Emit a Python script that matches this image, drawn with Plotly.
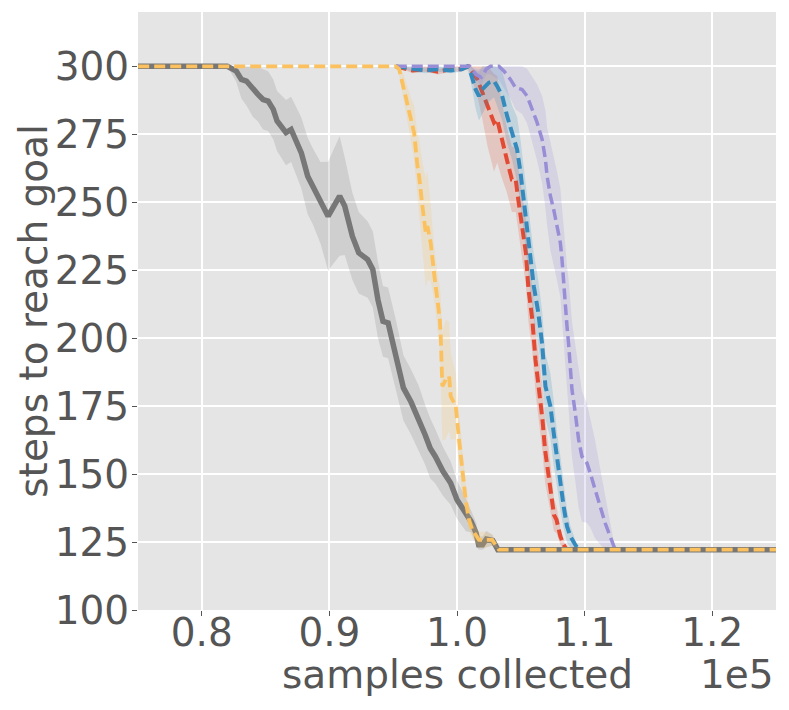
import numpy as np
import plotly.graph_objects as go

# x values in units of 1e5 samples collected
gray_x = [0.70, 0.820, 0.827, 0.831, 0.835, 0.840, 0.844, 0.848, 0.852, 0.856,
          0.859, 0.866, 0.870, 0.878, 0.883, 0.887, 0.893, 0.899, 0.908, 0.912,
          0.918, 0.923, 0.930, 0.934, 0.938, 0.942, 0.946, 0.952, 0.958, 0.964,
          0.970, 0.975, 0.979, 0.983, 0.989, 0.995, 1.000, 1.007, 1.011, 1.015,
          1.017, 1.020, 1.023, 1.028, 1.032, 1.30]
gray_y = [300, 300, 298.3, 295.2, 294.6, 291.5, 289.7, 287.8, 287.2, 284.2,
          279.9, 275.6, 276.8, 268.2, 259.6, 255.9, 249.8, 244.9, 252.3, 248.6,
          237.5, 231.4, 228.9, 225.3, 214.2, 206.2, 205.6, 194, 181.7, 176.5,
          170.5, 164.5, 159.5, 156.5, 151, 146.7, 140.6, 135, 132.6, 128.3,
          124, 124, 126.1, 125.6, 122.2, 122.2]
gray_s = [0, 0, 4, 7, 9, 10, 10, 11, 11, 11,
          11, 12, 12, 13, 14, 14, 15, 20, 22, 18,
          16, 15, 14, 14, 14, 13, 13, 13, 12, 12,
          12, 11, 11, 10, 9, 8, 7, 6, 4, 4,
          3, 3, 3, 2, 0, 0]

yel_x = [0.70, 0.952, 0.9547, 0.9586, 0.9638, 0.9664, 0.969, 0.9703, 0.9729, 0.9755,
         0.9768, 0.9794, 0.982, 0.9846, 0.9866, 0.9873, 0.9885, 0.9912, 0.9938, 0.9951,
         0.999, 1.0016, 1.0042, 1.0068, 1.0094, 1.012, 1.0172, 1.0224, 1.0276, 1.0328,
         1.30]
yel_y = [300, 300, 298.9, 291.5, 280.5, 275.6, 263.3, 259.6, 248.6, 238.8,
         241.2, 235.1, 224, 214.2, 206.8, 200, 182.3, 184.8, 186, 178.6,
         175, 162.7, 150.4, 140.6, 133.2, 129.5, 125.8, 125.8, 125.8, 122.2,
         122.2]
yel_s = [0, 0, 2, 5, 8, 10, 12, 14, 16, 20,
         20, 14, 10, 10, 12, 14, 20, 22, 20, 16,
         12, 10, 8, 6, 4, 3, 3, 3, 2, 0,
         0]

red_x = [0.952, 0.965, 0.975, 0.985, 0.995, 1.003, 1.009, 1.012, 1.016, 1.020,
         1.024, 1.029, 1.0315, 1.035, 1.039, 1.043, 1.046, 1.048, 1.051, 1.054,
         1.056, 1.059, 1.0615, 1.064, 1.067, 1.069, 1.072, 1.0745, 1.076, 1.078,
         1.081, 1.0836, 1.086, 1.30]
red_y = [300, 298.5, 299, 298, 299, 299, 300, 297.7, 295.2, 290.3,
         285.4, 279.3, 280.5, 273.1, 265.8, 258.4, 258.4, 251, 241.2, 231.4,
         218, 207, 192.1, 182.3, 170, 159, 149.2, 140.6, 135, 133.2,
         127.1, 124, 122.2, 122.2]
red_s = [0, 1, 1, 1, 1, 1, 1, 3, 6, 10,
         15, 18, 16, 14, 12, 12, 12, 12, 12, 12,
         12, 12, 12, 12, 12, 12, 10, 8, 6, 5,
         3, 2, 0, 0]

blue_x = [0.952, 0.965, 0.975, 0.985, 0.995, 1.004, 1.008, 1.0107, 1.0146, 1.0172,
          1.0198, 1.025, 1.029, 1.0315, 1.0354, 1.0393, 1.0432, 1.0471, 1.0498, 1.0523,
          1.0549, 1.0576, 1.0602, 1.0635, 1.0667, 1.0693, 1.0732, 1.0758, 1.0784, 1.081,
          1.0836, 1.0862, 1.0888, 1.0927, 1.0953, 1.30]
blue_y = [300, 299, 298.5, 299, 298.5, 299, 300, 297.7, 291.5, 289.1,
          291.5, 294, 294.6, 292.7, 289.1, 281.7, 275.6, 269.4, 260.9, 251,
          240, 228.9, 219.1, 210, 198, 182.3, 175, 165.1, 155.3, 146.7,
          138.1, 130.8, 127.1, 124, 122.2, 122.2]
blue_s = [0, 1, 1, 1, 1, 1, 1, 3, 7, 9,
          9, 7, 6, 7, 9, 10, 10, 12, 12, 12,
          12, 12, 12, 12, 12, 12, 12, 12, 10, 10,
          8, 6, 4, 2, 0, 0]

purp_x = [0.952, 0.975, 1.000, 1.010, 1.015, 1.019, 1.023, 1.0263, 1.0328, 1.0367,
          1.0419, 1.0458, 1.051, 1.0549, 1.0589, 1.0628, 1.0667, 1.0693, 1.0706, 1.0732,
          1.0758, 1.0784, 1.081, 1.0823, 1.0836, 1.0849, 1.0862, 1.0875, 1.0901, 1.0927,
          1.0953, 1.0979, 1.1018, 1.1044, 1.1083, 1.1122, 1.1161, 1.12, 1.1227, 1.124,
          1.30]
purp_y = [300, 300, 300, 300, 297, 296, 299, 300, 300, 298.3,
          295.2, 292.2, 291.5, 289.1, 284.2, 279.3, 273.1, 265.8, 259.6, 252.3,
          247.3, 241.2, 235.1, 228.9, 219.1, 212, 204.4, 197.6, 181.1, 172.5,
          162.7, 156.5, 154.1, 150.4, 144.3, 138.1, 132, 127.1, 123.4, 122.2,
          122.2]
purp_s = [0, 0, 0, 0, 2, 3, 2, 3, 5, 6,
          7, 8, 9, 10, 12, 14, 16, 18, 18, 20,
          20, 20, 20, 20, 22, 22, 22, 24, 25, 25,
          25, 24, 22, 20, 18, 14, 10, 6, 3, 0,
          0]

x_tick_vals = [0.8, 0.9, 1.0, 1.1, 1.2]
x_tick_text = ["0.8", "0.9", "1.0", "1.1", "1.2"]
y_tick_vals = [100, 125, 150, 175, 200, 225, 250, 275, 300]

series = [
    (red_x, red_y, red_s, "#E24A33", "rgba(226,74,51,0.2)", "dash", 4),
    (blue_x, blue_y, blue_s, "#348ABD", "rgba(52,138,189,0.2)", "dash", 4),
    (purp_x, purp_y, purp_s, "#988ED5", "rgba(152,142,213,0.2)", "dash", 3.5),
    (gray_x, gray_y, gray_s, "#777777", "rgba(119,119,119,0.2)", "solid", 5.5),
    (yel_x, yel_y, yel_s, "#FBC15E", "rgba(251,193,94,0.2)", "dash", 3.8),
]

fig = go.Figure()
for xs, ys, ss, col, fcol, dash, lw in series:
    xa = np.array(xs)
    ya = np.array(ys)
    sa = np.array(ss)
    hi = np.clip(ya + sa, 122.2, 300)
    lo = np.clip(ya - sa, 122.2, 300)
    fig.add_trace(go.Scatter(
        x=np.concatenate([xa, xa[::-1]]), y=np.concatenate([hi, lo[::-1]]),
        fill="toself", fillcolor=fcol, line=dict(width=0), mode="lines",
        hoverinfo="skip"))
    fig.add_trace(go.Scatter(
        x=xa, y=ya, mode="lines",
        line=dict(color=col, width=lw, dash="11px,5px" if dash == "dash" else "solid")))

FS = 39
axis_common = dict(showgrid=True, gridcolor="white", gridwidth=1.6, zeroline=False,
                   showline=False, ticks="outside", ticklen=5, tickwidth=1,
                   tickcolor="#555555", tickfont=dict(size=FS, color="#555555"))
fig.update_xaxes(range=[0.75, 1.25], tickvals=x_tick_vals, ticktext=x_tick_text,
                 ticklabelstandoff=-17, **axis_common)
fig.update_yaxes(range=[100, 320], tickvals=y_tick_vals, ticklabelstandoff=-5,
                 **axis_common)

# page body has an 8px default margin; size the figure so the plot area lands
# at x 138..776, y 12..610 of the 789x710 window
fig.update_layout(
    width=781, height=700,
    margin=dict(l=130, r=13, t=4, b=98),
    paper_bgcolor="white", plot_bgcolor="#E5E5E5",
    showlegend=False,
    font=dict(family="DejaVu Sans", size=FS, color="#555555"),
    annotations=[
        dict(text="samples collected", x=0.5, y=-0.108, xref="paper", yref="paper",
             xanchor="center", yanchor="middle", showarrow=False,
             font=dict(size=FS, color="#555555")),
        dict(text="1e5", x=1.0, y=-0.108, xref="paper", yref="paper",
             xanchor="right", yanchor="middle", showarrow=False,
             font=dict(size=FS, color="#555555")),
        dict(text="steps to reach goal", x=-0.165, y=0.5, xref="paper", yref="paper",
             xanchor="center", yanchor="middle", textangle=-90, showarrow=False,
             font=dict(size=FS, color="#555555")),
    ],
)

fig.write_html("out.html")
